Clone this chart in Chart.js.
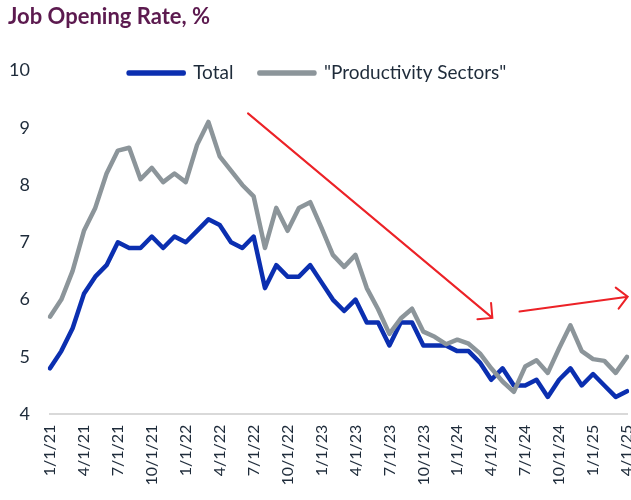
<!DOCTYPE html>
<html>
<head>
<meta charset="utf-8">
<script src="https://cdn.jsdelivr.net/npm/chart.js@4.4.1/dist/chart.umd.min.js"></script>
<style>
    html, body { margin: 0; padding: 0; background: #fff; }
</style>
</head>
<body>
<canvas id="jobChart" width="631" height="500"></canvas>
<script>
const months = [
    '1/1/21', '2/1/21', '3/1/21', '4/1/21', '5/1/21', '6/1/21', '7/1/21', '8/1/21', '9/1/21', '10/1/21', '11/1/21', '12/1/21',
    '1/1/22', '2/1/22', '3/1/22', '4/1/22', '5/1/22', '6/1/22', '7/1/22', '8/1/22', '9/1/22', '10/1/22', '11/1/22', '12/1/22',
    '1/1/23', '2/1/23', '3/1/23', '4/1/23', '5/1/23', '6/1/23', '7/1/23', '8/1/23', '9/1/23', '10/1/23', '11/1/23', '12/1/23',
    '1/1/24', '2/1/24', '3/1/24', '4/1/24', '5/1/24', '6/1/24', '7/1/24', '8/1/24', '9/1/24', '10/1/24', '11/1/24', '12/1/24',
    '1/1/25', '2/1/25', '3/1/25', '4/1/25'
];

const totalRate = [
    4.8, 5.1, 5.5, 6.1, 6.4, 6.6, 7.0, 6.9, 6.9, 7.1, 6.9, 7.1,
    7.0, 7.2, 7.4, 7.3, 7.0, 6.9, 7.1, 6.2, 6.6, 6.4, 6.4, 6.6,
    6.3, 6.0, 5.8, 6.0, 5.6, 5.6, 5.2, 5.6, 5.6, 5.2, 5.2, 5.2,
    5.1, 5.1, 4.9, 4.6, 4.8, 4.5, 4.5, 4.6, 4.3, 4.6, 4.8, 4.5,
    4.7, 4.5, 4.3, 4.4
];

const productivityRate = [
    5.7, 6.0, 6.5, 7.2, 7.6, 8.2, 8.6, 8.65, 8.1, 8.3, 8.05, 8.2,
    8.05, 8.7, 9.1, 8.5, 8.25, 8.0, 7.8, 6.9, 7.6, 7.2, 7.6, 7.7,
    7.25, 6.78, 6.57, 6.78, 6.2, 5.83, 5.4, 5.67, 5.84, 5.44, 5.35, 5.22,
    5.3, 5.23, 5.06, 4.8, 4.57, 4.39, 4.83, 4.94, 4.72, 5.15, 5.55, 5.1,
    4.96, 4.93, 4.72, 5.0
];

const yMin = 4;
const yMax = 10;

// trend arrows, in (month index, rate) units
const trendArrows = [
    { from: [17.5, 9.25], to: [39.1, 5.68] },
    { from: [41.5, 5.79], to: [51.06, 6.05] }
];

const textColor = '#1e2b3a';
const fontFamily = 'Lato, "Open Sans", sans-serif';
const legendLift = 22;

// let the legend sit on the same row as the top tick
const legendOverlap = {
    id: 'legendOverlap',
    afterInit(chart) {
        const legend = chart.legend;
        const fit = legend.fit;
        legend.fit = function() {
            fit.call(this);
            this.height -= legendLift;
        };
    },
    afterLayout(chart) {
        // widen the clip box again so the labels are not cut
        chart.legend.bottom += legendLift;
    }
};

const arrowPlugin = {
    id: 'arrowPlugin',
    afterDatasetsDraw(chart) {
        const {ctx, scales: {x, y}} = chart;
        ctx.save();
        ctx.strokeStyle = '#ec2227';
        ctx.lineWidth = 2;
        ctx.lineCap = 'round';
        trendArrows.forEach(a => {
            const x1 = x.getPixelForValue(a.from[0]);
            const y1 = y.getPixelForValue(a.from[1]);
            const x2 = x.getPixelForValue(a.to[0]);
            const y2 = y.getPixelForValue(a.to[1]);
            const ang = Math.atan2(y2 - y1, x2 - x1);
            const len = 15;
            ctx.beginPath();
            ctx.moveTo(x1, y1);
            ctx.lineTo(x2, y2);
            ctx.moveTo(x2 + len * Math.cos(ang + Math.PI * 0.75), y2 + len * Math.sin(ang + Math.PI * 0.75));
            ctx.lineTo(x2, y2);
            ctx.lineTo(x2 + len * Math.cos(ang - Math.PI * 0.75), y2 + len * Math.sin(ang - Math.PI * 0.75));
            ctx.stroke();
        });
        ctx.restore();
    }
};

new Chart(document.getElementById('jobChart'), {
    type: 'line',
    data: {
        labels: months,
        datasets: [{
            label: 'Total',
            data: totalRate,
            borderColor: '#0b2fb0',
            backgroundColor: '#0b2fb0',
            borderWidth: 4.5,
            pointRadius: 0,
            tension: 0,
            borderJoinStyle: 'round',
            borderCapStyle: 'round',
            order: 1
        }, {
            label: '"Productivity Sectors"',
            data: productivityRate,
            borderColor: '#8c959a',
            backgroundColor: '#8c959a',
            borderWidth: 4.5,
            pointRadius: 0,
            tension: 0,
            borderJoinStyle: 'round',
            borderCapStyle: 'round',
            order: 0
        }]
    },
    options: {
        responsive: false,
        animation: false,
        layout: {
            padding: { left: 8, right: 4, top: 3, bottom: 4 }
        },
        plugins: {
            title: {
                display: true,
                text: 'Job Opening Rate, %',
                align: 'start',
                color: '#5c1a4f',
                font: { family: fontFamily, size: 22, weight: 'bold' },
                padding: { top: 1, bottom: 7 }
            },
            legend: {
                position: 'top',
                labels: {
                    boxWidth: 55,
                    boxHeight: 1,
                    padding: 26,
                    color: textColor,
                    font: { family: fontFamily, size: 19 },
                    sort: (a, b) => a.datasetIndex - b.datasetIndex
                }
            },
            tooltip: { enabled: false }
        },
        scales: {
            x: {
                grid: { display: false, drawTicks: false },
                border: { display: true, color: '#d9d9d9', width: 2 },
                afterFit(scale) {
                    scale.paddingRight = 0;
                    scale.paddingLeft = 0;
                },
                ticks: {
                    autoSkip: false,
                    maxRotation: 90,
                    minRotation: 90,
                    padding: 10.5,
                    color: textColor,
                    font: { family: fontFamily, size: 16 },
                    callback: (value, index) => index % 3 === 0 ? months[index] : null
                }
            },
            y: {
                min: yMin,
                max: yMax,
                grid: { display: false, drawTicks: false },
                border: { display: false },
                afterFit(scale) {
                    scale.width = 42;
                },
                ticks: {
                    stepSize: 1,
                    padding: 20,
                    color: textColor,
                    font: { family: fontFamily, size: 18 }
                }
            }
        }
    },
    plugins: [legendOverlap, arrowPlugin]
});
</script>
</body>
</html>
